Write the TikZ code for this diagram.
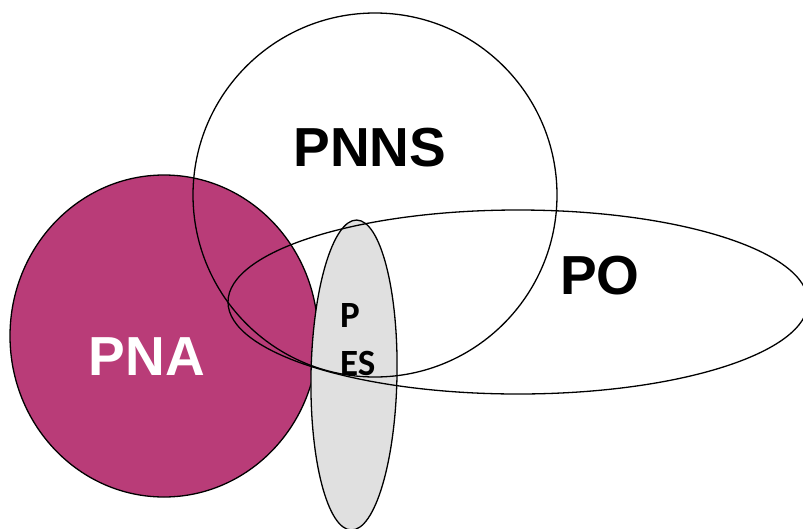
\documentclass[tikz,border=0pt]{standalone}
\usepackage{fontspec}
\setmainfont{Liberation Sans}
\newfontfamily\calib{Carlito}
\definecolor{pnacol}{RGB}{185,60,120}
\definecolor{pescol}{RGB}{224,224,224}
\begin{document}
\begin{tikzpicture}[x=1pt,y=-1pt,
  setline/.style={draw=black,line width=1.3pt},
  biglabel/.style={font=\fontsize{55}{60}\selectfont\bfseries,inner sep=0pt},
  smalllabel/.style={font=\calib\fontsize{37}{40}\selectfont\bfseries,inner sep=0pt,anchor=west}]
\useasboundingbox (0,0) rectangle (803,528);
% PNA set (filled)
\draw[setline,fill=pnacol] (164,336) ellipse [x radius=154, y radius=161];
% PES set (grey, slightly tilted)
\draw[setline,fill=pescol] (354,375) ellipse [x radius=43, y radius=155, rotate=-1];
% PNNS and PO outlines on top
\draw[setline] (375,195) circle [radius=182];
\draw[setline] (518,302) ellipse [x radius=290, y radius=92];
% labels
\node[biglabel] (pnns) at (370,148) {PNNS};
\node[biglabel] (po) at (600,276) {PO};
\node[biglabel,text=white] (pna) at (147,357) {PNA};
\node[smalllabel] (p) at (340,315) {P};
\node[smalllabel] (es) at (340,363) {ES};
\end{tikzpicture}
\end{document}
